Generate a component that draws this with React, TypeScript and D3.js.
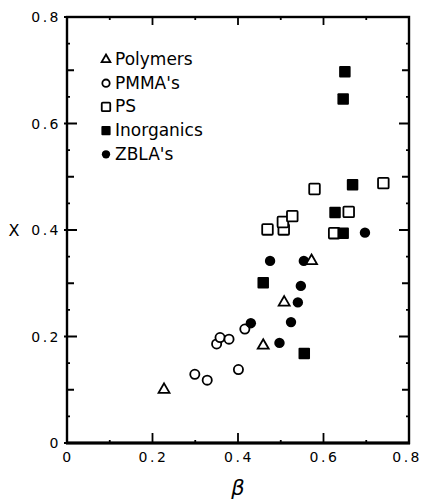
import React from 'react';
import * as d3 from 'd3';

// [beta, X]
const polymers: [number, number][] = [
  [0.227, 0.1], [0.459, 0.183], [0.508, 0.264], [0.572, 0.342],
];
const pmma: [number, number][] = [
  [0.299, 0.129], [0.328, 0.118], [0.401, 0.138], [0.35, 0.186],
  [0.358, 0.198], [0.379, 0.195], [0.416, 0.214],
];
const ps: [number, number][] = [
  [0.469, 0.401], [0.507, 0.401], [0.505, 0.415], [0.527, 0.426],
  [0.579, 0.477], [0.74, 0.488], [0.659, 0.434], [0.625, 0.394],
];
const inorganics: [number, number][] = [
  [0.459, 0.301], [0.555, 0.168], [0.65, 0.697], [0.646, 0.646],
  [0.668, 0.485], [0.627, 0.433], [0.646, 0.394],
];
const zblas: [number, number][] = [
  [0.43, 0.225], [0.497, 0.188], [0.524, 0.227], [0.54, 0.264],
  [0.547, 0.295], [0.475, 0.342], [0.554, 0.342], [0.697, 0.395],
];

const legendLabels = ['Polymers', "PMMA's", 'PS', 'Inorganics', "ZBLA's"];
const xTickLabels = ['0', '0.2', '0.4', '0.6', '0.8'];
const yTickLabels = ['0', '0.2', '0.4', '0.6', '0.8'];

const W = 422;
const H = 499;
const plotL = 67, plotR = 409, plotT = 17, plotB = 443;

const x = d3.scaleLinear().domain([0, 0.8]).range([plotL, plotR]);
const y = d3.scaleLinear().domain([0, 0.8]).range([plotB, plotT]);

const FONT = '"DejaVu Sans", sans-serif';

type Kind = 'tri' | 'circ' | 'sq' | 'fsq' | 'fcirc';

function marker(kind: Kind, cx: number, cy: number, scale = 1, key?: string) {
  const sw = 1.8;
  if (kind === 'tri') {
    const p = d3.symbol().type(d3.symbolTriangle).size(52 * scale * scale)();
    return <path key={key} d={p || ''} transform={`translate(${cx},${cy})`} fill="#fff" stroke="#000" strokeWidth={sw} />;
  }
  if (kind === 'circ') {
    return <circle key={key} cx={cx} cy={cy} r={4.6 * scale} fill="#fff" stroke="#000" strokeWidth={sw} />;
  }
  if (kind === 'fcirc') {
    return <circle key={key} cx={cx} cy={cy} r={5.2 * scale} fill="#000" />;
  }
  const s = (kind === 'sq' ? 10.6 : 11.5) * scale;
  return (
    <rect key={key} x={cx - s / 2} y={cy - s / 2} width={s} height={s} rx={1}
      fill={kind === 'sq' ? '#fff' : '#000'}
      stroke="#000" strokeWidth={kind === 'sq' ? sw : 0} />
  );
}

export default function App() {
  const near = (v: number, step: number) => Math.abs(v / step - Math.round(v / step)) < 1e-6;
  const xt = x.ticks(8);
  const yt = y.ticks(16);

  // tick segments, inward, as one path
  let tickPath = '';
  xt.forEach((t) => {
    const major = near(t, 0.2);
    const px = x(t);
    tickPath += `M${px},${plotB}V${plotB - (major ? 10 : 3)}`;
    tickPath += `M${px},${plotT}V${plotT + (major ? 8 : 3)}`;
  });
  yt.forEach((t) => {
    const major = near(t, 0.2);
    const mid = !major && near(t, 0.1);
    const len = major ? 10 : mid ? 7 : 3;
    const py = y(t);
    tickPath += `M${plotL - (major ? 3 : 0)},${py}H${plotL + len}`;
    tickPath += `M${plotR + (major ? 1 : 0)},${py}H${plotR - len}`;
  });

  const series: [Kind, [number, number][]][] = [
    ['circ', pmma],
    ['sq', ps],
    ['fsq', inorganics],
    ['fcirc', zblas],
    ['tri', polymers],
  ];
  const legendKinds: Kind[] = ['tri', 'circ', 'sq', 'fsq', 'fcirc'];

  return (
    <div style={{ position: 'absolute', left: 0, top: 0, width: W, height: H, background: '#fff' }}>
      <svg width={W} height={H} viewBox={`0 0 ${W} ${H}`} style={{ display: 'block' }}>
        {/* plot frame */}
        <rect x={plotL} y={plotT} width={plotR - plotL} height={plotB - plotT}
          fill="none" stroke="#000" strokeWidth={2.4} />
        <path d={`M${plotL - 1},${plotB}H${plotR + 1}`} stroke="#000" strokeWidth={3} fill="none" />
        <path d={tickPath} stroke="#000" strokeWidth={1.8} fill="none" />

        {/* tick labels */}
        {xTickLabels.map((l, i) => (
          <text key={'xl' + l} x={i === xTickLabels.length - 1 ? 422 : x(+l) + 1} y={462}
            textAnchor={i === xTickLabels.length - 1 ? 'end' : 'middle'} fontFamily={FONT} fontSize={14}
            letterSpacing={2.5}>{l}</text>
        ))}
        {yTickLabels.map((l) => (
          <text key={'yl' + l} x={61} y={y(+l) + 5} textAnchor="end" fontFamily={FONT} fontSize={14}
            letterSpacing={2.5}>{l}</text>
        ))}

        {/* axis titles */}
        <text x={14} y={y(0.4) + 6} textAnchor="middle" fontFamily={FONT} fontSize={16}>X</text>
        <text x={x(0.4)} y={495} textAnchor="middle" fontFamily={FONT} fontSize={21} fontStyle="italic">β</text>

        {/* points */}
        {series.map(([kind, pts]) => pts.map((p, i) => marker(kind, x(p[0]), y(p[1]), 1, kind + i)))}

        {/* legend */}
        {legendLabels.map((l, i) => {
          const by = 65 + i * 23.7;
          return (
            <g key={'lg' + l}>
              {marker(legendKinds[i], 106, by - 5.5, 0.8)}
              <text x={115} y={by} fontFamily={FONT} fontSize={17}>{l}</text>
            </g>
          );
        })}
      </svg>
    </div>
  );
}
